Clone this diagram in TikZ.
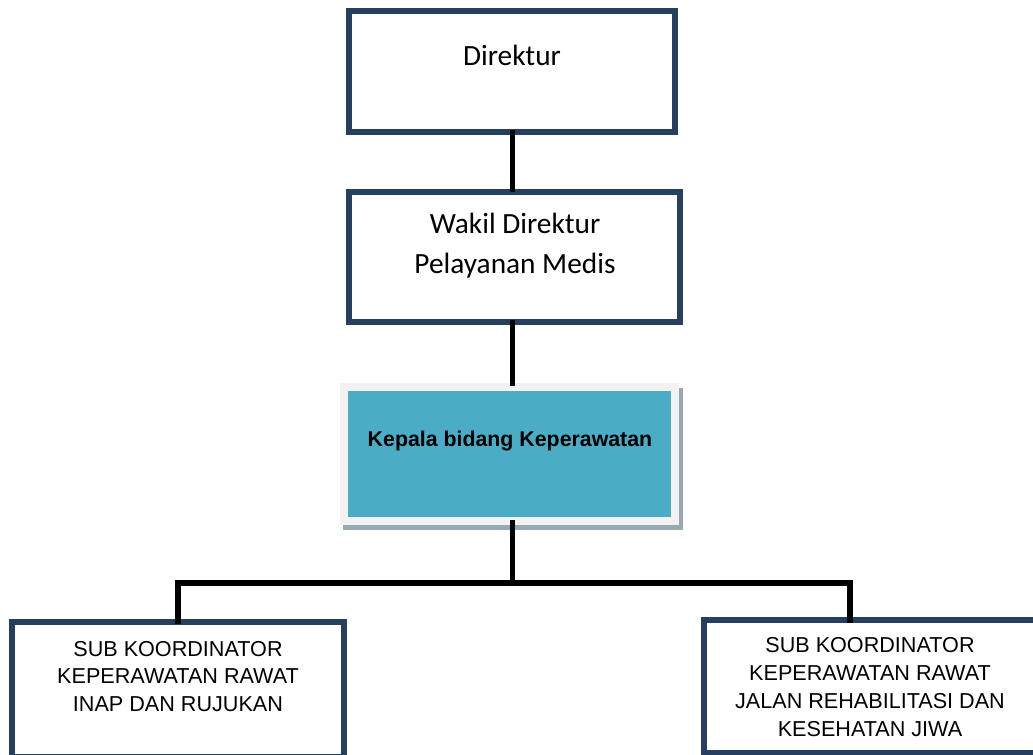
\documentclass[tikz,border=0pt]{standalone}
\usepackage{fontspec}
\setmainfont{Liberation Sans}
\newfontfamily\calibri{Carlito}
\usetikzlibrary{shadows}
\definecolor{navy}{HTML}{263F5E}
\definecolor{kabidfill}{HTML}{4BACC6}
\definecolor{frame}{HTML}{F2F2F2}
\definecolor{shade}{HTML}{95AAB4}
\tikzset{
  box/.style={draw=navy, line width=4.5pt, inner sep=0pt},
  kabidbox/.style={draw=frame, fill=kabidfill, line width=6pt, inner sep=0pt,
    drop shadow={shadow xshift=2.5pt, shadow yshift=-3.5pt, draw=shade, fill=shade, line width=6pt, opacity=1}},
  conn/.style={draw=black, line width=4pt, shorten <=-3.5pt, shorten >=-2.5pt},
  labc/.style={inner sep=0pt, font=\calibri\fontsize{22}{30}\selectfont},
  labs/.style={inner sep=0pt, align=center, font=\fontsize{16.2}{20.6}\selectfont}
}

\begin{document}
\begin{tikzpicture}[x=0.75pt, y=-0.75pt]
  \useasboundingbox (0,0) rectangle (1033,755);

  % boxes
  \node[box, minimum width=244.5pt, minimum height=90.75pt] (direktur) at (512,71.5) {};
  \node[box, minimum width=248.25pt, minimum height=97.5pt] (wadir) at (514.5,257) {};
  \node[kabidbox, minimum width=248.6pt, minimum height=100.5pt] (kabid) at (509.75,454) {};
  \node[box, minimum width=249pt, minimum height=101pt] (subinap) at (178,689.5) {};
  \node[box, minimum width=249pt, minimum height=99.75pt] (subjalan) at (870,686.5) {};

  \coordinate (bus) at (512.5,583);
  \coordinate (jalan-top) at (850,620);

  % texts
  \node[labc, anchor=base] (direktur-txt) at (512,66) {Direktur};
  \node[labc, anchor=north, align=center] (wadir-txt) at (515,213) {Wakil Direktur\\Pelayanan Medis};
  \node[inner sep=0pt, anchor=base, font=\bfseries\fontsize{16}{19}\selectfont] (kabid-txt) at (510,447) {Kepala bidang Keperawatan};
  \node[labs, anchor=north] (inap-txt) at (178,641) {SUB KOORDINATOR\\KEPERAWATAN RAWAT\\INAP DAN RUJUKAN};
  \node[labs, anchor=north, font=\fontsize{16.2}{21}\selectfont] (jalan-txt) at (870,637.5) {SUB KOORDINATOR\\KEPERAWATAN RAWAT\\JALAN REHABILITASI DAN\\KESEHATAN JIWA};

  % connectors, all on one vertical through the bus
  \draw[conn] (bus |- direktur.south) -- (bus |- wadir.north);
  \draw[conn] (bus |- wadir.south) -- (bus |- kabid.north);
  \draw[conn] (bus |- kabid.south) -- (bus);
  \draw[conn] (subinap.north) |- (bus) -| (jalan-top);
\end{tikzpicture}
\end{document}
